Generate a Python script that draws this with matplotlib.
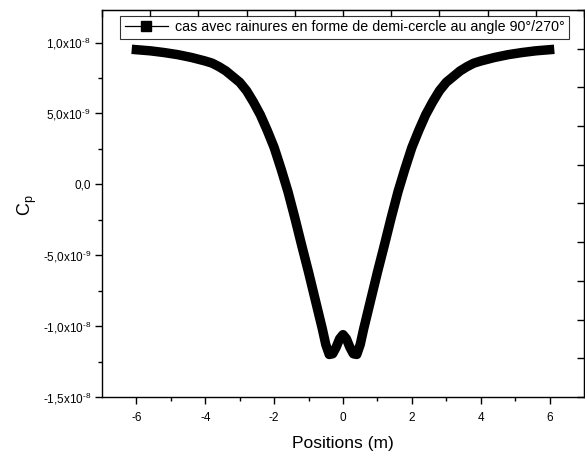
import matplotlib
matplotlib.use("Agg")
import matplotlib.pyplot as plt
from matplotlib.lines import Line2D
import numpy as np

plt.rcParams['font.family'] = ['Liberation Sans', 'DejaVu Sans']
plt.rcParams['mathtext.fontset'] = 'custom'
plt.rcParams['mathtext.rm'] = 'Liberation Sans'
plt.rcParams['mathtext.it'] = 'Liberation Sans:italic'
plt.rcParams['axes.unicode_minus'] = False

# data (Cp in units of 1e-9)
positions = [-6.0, -5.6, -5.2, -4.8, -4.4, -4.0, -3.8, -3.6, -3.4, -3.2, -3.0,
             -2.8, -2.6, -2.4, -2.2, -2.0, -1.8, -1.6, -1.4, -1.2, -1.0, -0.9, -0.8,
             -0.7, -0.6, -0.5, -0.4, -0.3, -0.2, -0.1, 0.0,
             0.1, 0.2, 0.3, 0.4, 0.5, 0.6, 0.7, 0.8, 0.9, 1.0, 1.2, 1.4, 1.6, 1.8,
             2.0, 2.2, 2.4, 2.6, 2.8, 3.0, 3.2, 3.4, 3.6, 3.8, 4.0, 4.4, 4.8,
             5.2, 5.6, 6.0]
cp_e9 = [9.5, 9.42, 9.3, 9.15, 8.95, 8.7, 8.55, 8.3, 8.0, 7.6, 7.2,
         6.6, 5.8, 4.9, 3.8, 2.6, 1.1, -0.5, -2.35, -4.3, -6.2, -7.2, -8.2,
         -9.2, -10.2, -11.3, -12.0, -11.95, -11.5, -10.9, -10.6,
         -10.9, -11.5, -11.95, -12.0, -11.3, -10.2, -9.2, -8.2, -7.2, -6.2, -4.3, -2.35, -0.5, 1.1,
         2.6, 3.8, 4.9, 5.8, 6.6, 7.2, 7.6, 8.0, 8.3, 8.55, 8.7, 8.95, 9.15,
         9.3, 9.42, 9.5]
cp = [v * 1e-9 for v in cp_e9]

series_label = "cas avec rainures en forme de demi-cercle au angle 90°/270°"
x_ticks = [-6, -4, -2, 0, 2, 4, 6]
x_ticklabels = ["-6", "-4", "-2", "0", "2", "4", "6"]
y_ticks = [-1.5e-8, -1.0e-8, -5e-9, 0.0, 5e-9, 1.0e-8]
y_ticklabels = ["-1,5x10$^{\\text{-8}}$", "-1,0x10$^{\\text{-8}}$",
                "-5,0x10$^{\\text{-9}}$", "0,0",
                "5,0x10$^{\\text{-9}}$", "1,0x10$^{\\text{-8}}$"]

W, H = 585, 459
fig = plt.figure(figsize=(W / 100, H / 100), dpi=100)
ax = fig.add_axes([102 / W, (H - 397) / H, (584 - 102) / W, (397 - 10) / H])

ax.plot(positions, cp, color='black', lw=6.8, solid_capstyle='projecting',
        solid_joinstyle='round')

xmin, xmax = -7, 7
ymin, ymax = -1.5e-8, 1.23e-8
ax.set_xlim(xmin, xmax)
ax.set_ylim(ymin, ymax)

ax.set_xticks(x_ticks)
ax.set_xticklabels(x_ticklabels)
ax.set_xticks([-5, -3, -1, 1, 3, 5], minor=True)
ax.set_yticks(y_ticks)
ax.set_yticklabels(y_ticklabels)
ax.set_yticks([-1.25e-8, -7.5e-9, -2.5e-9, 2.5e-9, 7.5e-9], minor=True)
ax.tick_params(which='major', direction='out', length=5, width=1, labelsize=8.5, pad=3)
ax.tick_params(which='minor', direction='out', length=3, width=1)
ax.tick_params(axis='x', pad=6)

for s in ax.spines.values():
    s.set_linewidth(1.0)

# top / right inward ticks
secx = ax.secondary_xaxis('top')
secx.set_xticks(np.linspace(xmin, xmax, 11))
secx.tick_params(direction='in', length=5, width=1, labeltop=False)
secx.set_xticklabels([])
secy = ax.secondary_yaxis('right')
secy.set_yticks(np.linspace(ymin, ymax, 11))
secy.tick_params(direction='in', length=5, width=1, labelright=False)
secy.set_yticklabels([])

ax.set_xlabel("Positions (m)", fontsize=12.5, labelpad=8.5)
ax.set_ylabel("C$_\\mathregular{p}$", fontsize=13)
ax.yaxis.set_label_coords((39 - 102) / 482, (397 - 205) / 387)

handle = Line2D([], [], color='black', lw=0.9, marker='s', markersize=7)
leg = ax.legend([handle], [series_label], loc='upper center',
                bbox_to_anchor=(344.5 / W, (H - 16) / H), bbox_transform=fig.transFigure,
                borderaxespad=0, fancybox=False, frameon=True, fontsize=10.3,
                handlelength=3.0, handletextpad=0.5, borderpad=0.3)
leg.get_frame().set_edgecolor('black')
leg.get_frame().set_linewidth(0.8)

fig.savefig("out.png", dpi=100)
